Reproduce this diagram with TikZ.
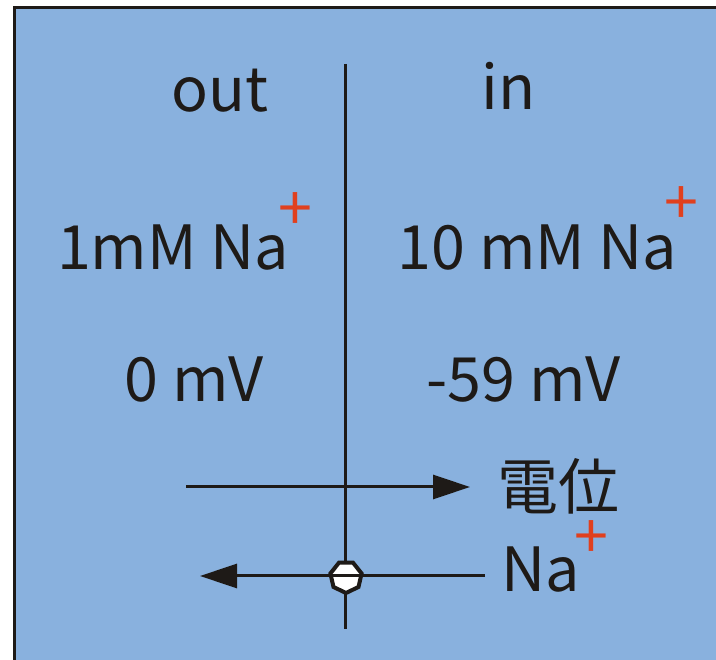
\documentclass[tikz,border=0pt]{standalone}
\usepackage{fontspec}
\setmainfont{Noto Sans CJK JP}
\usetikzlibrary{arrows.meta,shapes.geometric}
\definecolor{bgblue}{HTML}{89B1DE}
\definecolor{ink}{HTML}{1E1A17}
\definecolor{plusred}{HTML}{E0401E}
\tikzset{
  lbl/.style={inner sep=0pt, text=ink, font=\fontsize{61}{61}\selectfont},
  plus/.style={inner sep=0pt, text=plusred, font=\fontsize{61}{61}\selectfont},
  thin line/.style={draw=ink, line width=3pt},
  flow/.style={draw=ink, line width=3pt, -{Triangle[length=37pt,width=24pt]}},
  channel/.style={regular polygon, regular polygon sides=7, shape border rotate=180,
    minimum size=32pt, inner sep=0pt, fill=white, draw=ink, line width=4pt}
}
\begin{document}
\begin{tikzpicture}[x=1pt,y=-1pt]
\useasboundingbox (0,0) rectangle (716,660);
\fill[white] (0,0) rectangle (716,660);
\fill[bgblue] (14,8) rectangle (716,660);
\draw[ink, line width=3pt] (14,660) -- (14,8) -- (716,8);

% membrane
\coordinate (mtop) at (345,64);
\coordinate (mbot) at (345,629);
\draw[thin line] (mtop) -- (mbot);

% labels
\node[lbl, anchor=base] (out) at (220,112) {out};
\node[lbl, anchor=base] (in) at (508.5,110) {in};
\node[lbl, anchor=base] (concout) at (173,270) {1mM Na};
\node[plus] (plusout) at (295,212) {+};
\node[lbl, anchor=base] (concin) at (537.5,270) {10 mM Na};
\node[plus] (plusin) at (681,206) {+};
\node[lbl, anchor=base] (vout) at (194,402) {0 mV};
\node[lbl, anchor=base] (vin) at (523.5,402) {-59 mV};
\node[lbl] (pot) at (558,486.5) {電位};
\node[lbl, anchor=base] (na) at (540.5,592) {Na};
\node[plus] (plusna) at (591,540) {+};

% potential arrow
\coordinate (ps) at (186,487);
\coordinate (pe) at (470,487);
\draw[flow] (ps) -- (pe);

% Na+ flux through channel
\node[channel] (ch) at (346,577) {};
\coordinate (ns) at (485,576);
\coordinate (ne) at (200,576);
\draw[flow] (ns) -- (ne);
\end{tikzpicture}
\end{document}
